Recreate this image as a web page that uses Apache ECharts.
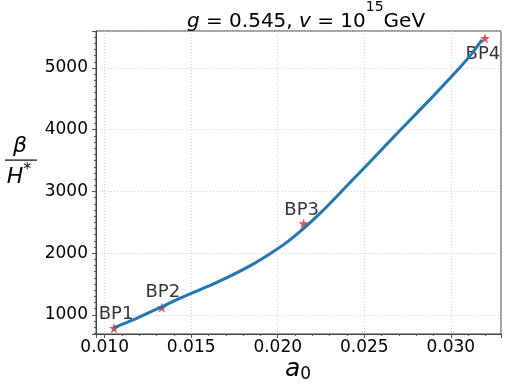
<!DOCTYPE html>
<html>
<head>
<meta charset="utf-8">
<script src="https://cdn.jsdelivr.net/npm/echarts@6/dist/echarts.min.js"></script>
<style>
html, body { margin: 0; padding: 0; background: #fff; }
#chart { width: 507px; height: 391px; }
</style>
</head>
<body>
<div id="chart"></div>
<script>
// fitted curve beta/H* vs a0
const curveA0 = [0.01054, 0.0113, 0.0120, 0.0133, 0.0142, 0.0150, 0.0162, 0.0173, 0.0185, 0.0196, 0.0205, 0.0215, 0.0225,
  0.0236, 0.0244, 0.0253, 0.0262, 0.0271, 0.0280, 0.0289, 0.0297, 0.0305, 0.0312, 0.0318]
const curveBeta = [790, 880, 965, 1130, 1250, 1350, 1490, 1635, 1810, 2000, 2170, 2400, 2660,
  2975, 3210, 3470, 3735, 4000, 4260, 4520, 4760, 5000, 5230, 5455]

// benchmark points
const bpNames = ['BP1', 'BP2', 'BP3', 'BP4']
const bpA0 = [0.01054, 0.0133, 0.0215, 0.03197]
const bpBeta = [785, 1118, 2482, 5481]

const font = 'DejaVu Sans'
const star = 'path://M0,-10L2.35,-3.24L9.51,-3.09L3.8,1.24L5.88,8.09L0,4L-5.88,8.09L-3.8,1.24L-9.51,-3.09L-2.35,-3.24Z'
const labelOffsets = [[2, -14], [1, -15], [-2, -13], [-2, 16]]

const chart = echarts.init(document.getElementById('chart'))

const gridLine = { show: true, lineStyle: { color: '#c8c8c8', type: [1, 2], width: 0.8 } }

chart.setOption({
  animation: false,
  grid: {
    left: 96, right: 6, top: 31, bottom: 57,
    show: true, borderColor: '#404040', borderWidth: 1
  },
  xAxis: {
    type: 'value',
    min: 0.0095,
    max: 0.0329,
    splitNumber: 5,
    axisLine: { show: true, onZero: false, lineStyle: { color: '#404040' } },
    axisTick: { show: true, length: 4, lineStyle: { color: '#555' } },
    minorTick: { show: true, splitNumber: 5, length: 2, lineStyle: { color: '#555' } },
    axisLabel: {
      showMinLabel: false, showMaxLabel: false,
      formatter: (v) => v.toFixed(3),
      fontFamily: font, fontSize: 17, color: '#000', margin: 5
    },
    splitLine: gridLine
  },
  yAxis: {
    type: 'value',
    min: 690,
    max: 5600,
    splitNumber: 5,
    axisLine: { show: true, onZero: false, lineStyle: { color: '#404040' } },
    axisTick: { show: true, length: 4, lineStyle: { color: '#555' } },
    minorTick: { show: true, splitNumber: 10, length: 2, lineStyle: { color: '#555' } },
    axisLabel: {
      showMinLabel: false, showMaxLabel: false,
      formatter: (v) => String(v),
      fontFamily: font, fontSize: 17, color: '#000', margin: 8
    },
    splitLine: gridLine
  },
  series: [
    {
      type: 'line',
      z: 3,
      data: curveA0.map((x, i) => [x, curveBeta[i]]),
      smooth: 0.3,
      symbol: 'none',
      lineStyle: { color: '#1f77b4', width: 3 }
    },
    {
      type: 'scatter',
      z: 2,
      symbol: star,
      symbolSize: 10,
      itemStyle: { color: '#d62728' },
      data: bpNames.map((n, i) => ({
        name: n,
        value: [bpA0[i], bpBeta[i]],
        label: { offset: labelOffsets[i] }
      })),
      label: {
        show: true,
        position: 'inside',
        formatter: '{b}',
        fontFamily: font,
        fontSize: 18,
        color: '#000'
      }
    }
  ],
  graphic: [
    {
      type: 'text', x: 306, y: 15,
      style: {
        text: '{i|g}{n| = 0.545, }{i|v}{n| = 10}{s|15}{n|GeV}',
        fontFamily: font, fontSize: 20,
        align: 'center', verticalAlign: 'middle',
        rich: {
          i: { fontFamily: font, fontStyle: 'italic', fontSize: 20, lineHeight: 34, verticalAlign: 'bottom', fill: '#000' },
          n: { fontFamily: font, fontSize: 20, lineHeight: 34, verticalAlign: 'bottom', fill: '#000' },
          s: { fontFamily: font, fontSize: 14, lineHeight: 14, padding: [0, 0, 18, 0], verticalAlign: 'bottom', fill: '#000' }
        }
      }
    },
    {
      type: 'text', x: 20, y: 146,
      style: { text: 'β', fontFamily: font, fontStyle: 'italic', fontSize: 22, fill: '#000', align: 'center', verticalAlign: 'middle' }
    },
    {
      type: 'rect', shape: { x: 5, y: 159.5, width: 32, height: 1.2 },
      style: { fill: '#000' }
    },
    {
      type: 'text', x: 19, y: 175,
      style: {
        text: '{h|H}{s|*}',
        fontFamily: font, fontSize: 22,
        align: 'center', verticalAlign: 'middle',
        rich: {
          h: { fontFamily: font, fontStyle: 'italic', fontSize: 22, lineHeight: 26, verticalAlign: 'bottom', fill: '#000' },
          s: { fontFamily: font, fontSize: 16, lineHeight: 16, verticalAlign: 'top', fill: '#000' }
        }
      }
    },
    {
      type: 'text', x: 298, y: 370,
      style: {
        text: '{a|a}{s|0}',
        fontFamily: font, fontSize: 25,
        align: 'center', verticalAlign: 'middle',
        rich: {
          a: { fontFamily: font, fontStyle: 'italic', fontSize: 25, lineHeight: 26, verticalAlign: 'top', fill: '#000' },
          s: { fontFamily: font, fontSize: 17, lineHeight: 17, verticalAlign: 'bottom', fill: '#000' }
        }
      }
    }
  ]
})
</script>
</body>
</html>
